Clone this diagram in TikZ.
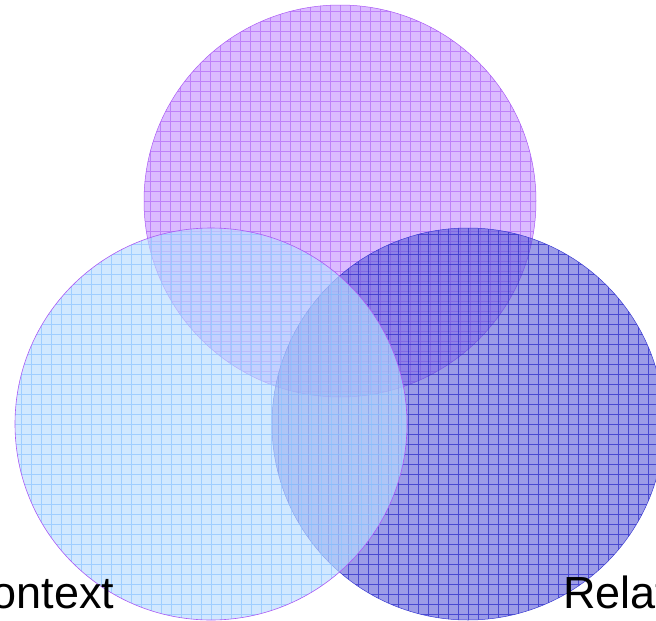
\documentclass[tikz,border=0pt]{standalone}
\usepackage{fontspec}
\setmainfont{Liberation Sans}
\definecolor{topfill}{RGB}{200,150,255}
\definecolor{topgrid}{RGB}{170,90,245}
\definecolor{rightfill}{RGB}{90,90,215}
\definecolor{rightgrid}{RGB}{40,40,200}
\definecolor{rightedge}{RGB}{60,60,210}
\definecolor{leftfill}{RGB}{185,220,255}
\definecolor{leftgrid}{RGB}{140,195,255}
\begin{document}
\begin{tikzpicture}[x=1pt,y=-1pt,
  venn/.style={circle, inner sep=0pt, minimum size=392pt},
  lbl/.style={font=\fontsize{45}{45}\selectfont, inner sep=0pt, anchor=base west, text=black}]
\useasboundingbox (0,0) rectangle (656,621);
% top circle
\node[venn, draw=topgrid, line width=0.5pt, fill=topfill, fill opacity=0.65,
  path picture={\draw[topgrid, line width=0.6pt, opacity=0.6, step=10pt]
    (path picture bounding box.south west) grid (path picture bounding box.north east);}] (topc) at (340,201) {};
% right circle
\node[venn, draw=rightedge, line width=0.5pt, fill=rightfill, fill opacity=0.6,
  path picture={\draw[rightgrid, line width=0.6pt, opacity=0.7, step=10pt]
    (path picture bounding box.south west) grid (path picture bounding box.north east);}] (rightc) at (468,424) {};
% left circle
\node[venn, draw=topgrid, line width=0.6pt, fill=leftfill, fill opacity=0.65,
  path picture={\draw[leftgrid, line width=0.6pt, opacity=0.7, step=10pt]
    (path picture bounding box.south west) grid (path picture bounding box.north east);}] (leftc) at (211,424) {};
\node[lbl] (ctx) at (-41,608) {Context};
\node[lbl] (rel) at (563,608) {Relationships};
\end{tikzpicture}
\end{document}
